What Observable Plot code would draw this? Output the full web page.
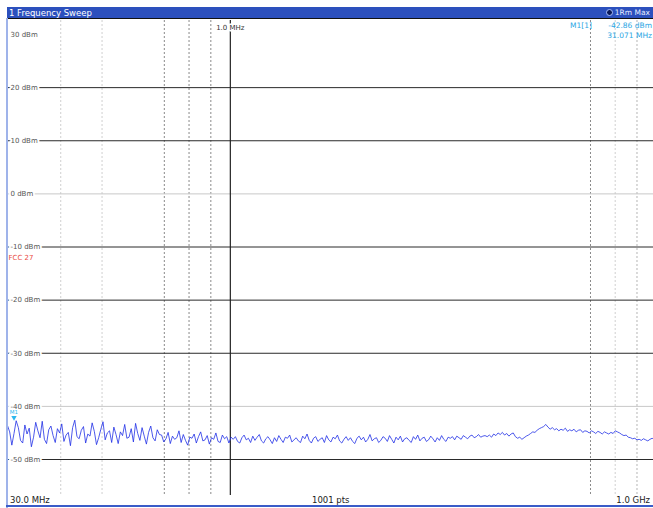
<!DOCTYPE html>
<html><head><meta charset="utf-8">
<script src="https://cdn.jsdelivr.net/npm/d3@7"></script>
<script src="https://cdn.jsdelivr.net/npm/@observablehq/plot@0.6"></script>
<style>
body{margin:0;background:#fff;}
#wrap{position:relative;width:653px;height:508px;overflow:hidden;font-family:"DejaVu Sans",sans-serif;background:#fff;}
.ov{position:absolute;white-space:nowrap;line-height:1;}
</style></head><body><div id="wrap"></div>
<script>
// Sweep definition
const sweepStartMHz = 30;
const sweepStopMHz = 1000;
const sweepPointsLabel = "1001 pts";
const startLabel = "30.0 MHz";
const stopLabel = "1.0 GHz";
const titleText = "1 Frequency Sweep";
const traceLabel = "1Rm Max";

// Trace levels (dBm), left to right
const levels = [
  -43.6,-44.8,-47.3,-45.1,-42.7,-44.0,-46.4,-46.9,-43.5,-45.2,-44.1,-47.6,-45.8,-43.0,-44.6,-45.9,-42.8,-46.2,-47.0,-44.4,-43.7,-45.5,-46.8,-44.2,-45.0,
  -43.3,-46.6,-45.4,-44.9,-47.4,-44.0,-42.6,-45.7,-46.1,-44.5,
  -43.8,-46.9,-45.2,-45.6,-43.1,-44.7,-47.2,-45.9,-44.3,-42.9,
  -46.3,-45.0,-44.6,-46.8,-43.9,-45.3,-47.0,-44.8,-45.5,-43.4,
  -46.0,-45.8,-44.2,-46.7,-43.2,-45.1,-46.4,-44.0,-45.6,-47.1,
  -44.9,-43.7,-45.9,-46.5,-44.4,-45.3,
  -45.4,-46.7,-46.1,-44.9,-47.0,-45.6,-46.2,-45.9,-44.6,-46.8,
  -45.3,-46.4,-47.3,-45.8,-46.0,-45.2,-46.9,-45.7,-44.8,-46.5,
  -46.3,-45.5,-47.1,-45.9,-46.2,-45.0,-46.6,-46.8,-45.4,-46.1,
  -45.7,-46.9,-45.8,
  -46.2,-45.7,-46.6,-46.9,-45.9,-45.4,-46.3,-46.0,-46.8,-45.6,
  -46.4,-45.8,-45.3,-46.5,-46.9,-46.1,-45.7,-46.3,-47.0,-45.9,
  -46.6,-45.5,-46.2,-46.8,-45.8,-46.0,-45.4,-46.7,-46.3,-45.9,
  -46.5,-46.8,-45.6,-46.1,-45.2,-46.4,-46.9,-46.0,-45.7,-46.6,
  -46.2,-45.9,-46.8,-45.5,-46.3,-46.7,-45.8,-46.1,-45.4,-46.5,
  -46.9,-46.2,-45.7,-46.4,-45.9,-46.6,-47.0,-46.0,-45.6,-46.3,
  -45.8,-46.7,-46.2,-45.3,-46.5,-46.1,-45.9,-46.8,-46.4,-45.7,
  -46.0,-46.6,-45.5,-46.2,-46.9,-45.8,-46.3,-45.6,-46.7,-46.1,
  -45.9,-46.4,-46.8,-45.7,-46.2,-45.4,-46.5,-46.0,-45.8,-46.6,
  -46.3,-45.6,-46.1,-46.7,-45.9,-46.4,-45.5,-46.2,-46.6,-45.8,
  -46.0,-45.7,-46.3,-45.6,-45.9,-46.2,-45.5,-45.8,-46.1,-45.6,
  -45.4,-45.9,-45.7,-45.3,-45.8,-45.6,-45.5,
  -45.7,-45.4,-45.8,-45.2,-45.5,-45.0,-45.3,-44.9,-45.4,-45.1,
  -45.6,-45.2,-45.0,-45.7,-46.0,-45.8,-46.2,-45.9,-45.6,-45.4,
  -45.1,-44.8,-44.9,-44.5,-44.2,-44.0,-43.8,
  -43.4,-43.9,-44.3,-44.0,-44.4,-44.2,-44.6,-44.3,-44.5,-44.1,
  -44.7,-44.4,-44.6,-44.3,-44.8,-44.5,-44.4,-44.9,-44.6,-44.7,
  -45.0,-44.6,-44.8,-45.1,-44.7,-44.9,-45.2,-44.8,
  -45.0,-45.2,-44.9,-45.1,-44.6,-44.8,-45.0,-45.3,-45.5,-45.4,
  -45.8,-45.9,-46.1,-46.0,-46.3,-46.2,-46.4,-46.1,-46.3,-46.5,
  -46.2,-46.0,-46.3,-46.1
];

// Axis / grid
const yTicks = [30,20,10,0,-10,-20,-30,-40,-50];
const yTickLabels = ["30 dBm","20 dBm","10 dBm","0 dBm","-10 dBm","-20 dBm","-30 dBm","-40 dBm","-50 dBm"];
const majorGrid = [20,10,-10,-20,-30,-50];
const minorGrid = [0,-40];
const dashedDarkMHz = [70,80,90,700];
const dashedMidMHz = [900];
const dashedLightMHz = [40,50,800];
const solidMHz = [100];
const solidLabel = "1.0 MHz";

// Limit line label
const limitLabel = {text:"FCC 27", level:-10};

// Marker
const markerName = "M1";
const markerRef = "M1[1]";
const markerFreqMHz = 31.071;
const markerLevel = -42.86;
const markerLevelText = "-42.86 dBm";
const markerFreqText = "31.071 MHz";

// sweep grid (log spaced points of the sweep)
const n = levels.length;
const trace = levels.map((v,i)=>({f: sweepStartMHz*Math.pow(sweepStopMHz/sweepStartMHz, i/(n-1)), v}));

const ticksData = yTicks.map((t,i)=>({t, label:yTickLabels[i]}));
const markerData = [{f:markerFreqMHz, v:markerLevel}];

const chart = Plot.plot({
  width:653, height:508,
  marginTop:20, marginBottom:13, marginLeft:7, marginRight:0,
  x:{type:"log", domain:[sweepStartMHz, sweepStopMHz], range:[7,656], axis:null},
  y:{domain:[-50,30], range:[459,34], axis:null},
  style:{background:"white", fontFamily:"DejaVu Sans, sans-serif", overflow:"visible"},
  marks:[
    Plot.ruleX(dashedLightMHz, {x:d=>d, stroke:"#cfcfcf", strokeDasharray:"2,2", strokeWidth:1}),
    Plot.ruleX(dashedMidMHz, {x:d=>d, stroke:"#b5b5b5", strokeDasharray:"2,2", strokeWidth:1}),
    Plot.ruleX(dashedDarkMHz, {x:d=>d, stroke:"#8a8a8a", strokeDasharray:"2,2", strokeWidth:1}),
    Plot.ruleY(minorGrid, {y:d=>d, stroke:"#c8c8c8", strokeWidth:1}),
    Plot.ruleY(majorGrid, {y:d=>d, stroke:"#2a2a2a", strokeWidth:1}),
    Plot.ruleX(solidMHz, {x:d=>d, stroke:"#222", strokeWidth:1.2}),
    Plot.text(solidMHz, {x:d=>d, frameAnchor:"top", dy:5, text:()=>solidLabel, fontSize:7, fill:"#333", stroke:"white", strokeWidth:3}),
    Plot.text(ticksData, {x:()=>sweepStartMHz, y:"t", text:"label", textAnchor:"start", dx:3, fontSize:7, fill:"#555", stroke:"white", strokeWidth:4}),
    Plot.text([limitLabel], {x:()=>sweepStartMHz, y:"level", text:"text", textAnchor:"start", dx:1, dy:11, fontSize:7, fill:"#ea4a42"}),
    Plot.line(trace, {x:"f", y:"v", stroke:"#1f2ee6", strokeWidth:0.8}),
    Plot.dot(markerData, {x:"f", y:"v", symbol:"triangle", r:2, rotate:180, dy:-4, fill:"#2bb8ee", stroke:"none"}),
    Plot.text(markerData, {x:"f", y:"v", text:()=>markerName, dy:-9, fontSize:5.5, fill:"#2bb8ee"})
  ]
});
const wrap = document.getElementById("wrap");
wrap.appendChild(chart);
chart.style.position="absolute"; chart.style.left="0"; chart.style.top="0";

function ov(html, css){ const d=document.createElement("div"); d.className="ov"; d.innerHTML=html; Object.assign(d.style, css); wrap.appendChild(d); return d; }
// title bar
ov("", {left:"7px", top:"7px", width:"646px", height:"11px", background:"#2c50bd", borderBottom:"1px solid #111"});
ov(titleText, {left:"9px", top:"8.5px", color:"#fff", fontSize:"8.5px"});
ov('<span style="display:inline-block;width:5px;height:5px;border-radius:50%;background:#0a1a5a;border:1px solid #a8c0ff;vertical-align:-1px;margin-right:2px"></span>'+traceLabel, {right:"3px", top:"8.5px", color:"#e6ecff", fontSize:"7.5px"});
// left and bottom frame
ov("", {left:"6px", top:"18px", width:"1.5px", height:"490px", background:"#9fb3ea"});
ov("", {left:"6px", top:"505px", width:"647px", height:"2px", background:"#3a5cc8"});
// marker readout
ov(markerRef, {left:"570px", top:"22px", color:"#2aa6e4", fontSize:"7.5px"});
ov(markerLevelText, {right:"1px", top:"22px", color:"#2aa6e4", fontSize:"7.5px"});
ov(markerFreqText, {right:"1px", top:"32px", color:"#2aa6e4", fontSize:"7.5px"});
// bottom labels
ov(startLabel, {left:"10px", top:"496px", color:"#222", fontSize:"8.5px"});
ov(sweepPointsLabel, {left:"312px", top:"496px", color:"#222", fontSize:"8.5px"});
ov(stopLabel, {right:"3px", top:"496px", color:"#222", fontSize:"8.5px"});
</script></body></html>
